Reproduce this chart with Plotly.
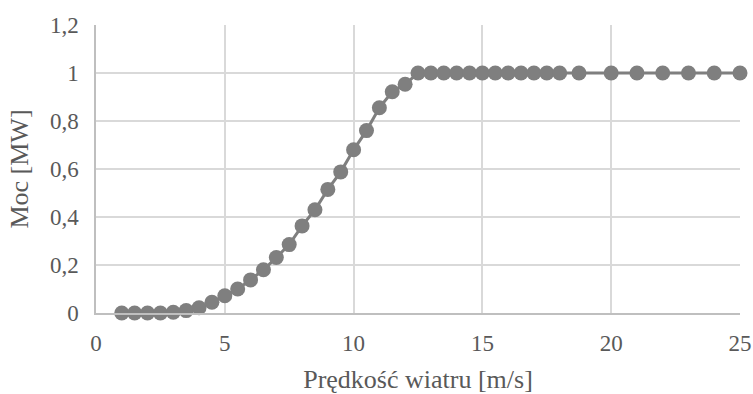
import plotly.graph_objects as go

wind_speed = [1, 1.5, 2, 2.5, 3, 3.5, 4, 4.5, 5, 5.5, 6, 6.5, 7, 7.5, 8, 8.5, 9, 9.5,
              10, 10.5, 11, 11.5, 12, 12.5, 13, 13.5, 14, 14.5, 15, 15.5, 16, 16.5,
              17, 17.5, 18, 18.75, 20, 21, 22, 23, 24, 25]
power_mw = [0, 0, 0, 0, 0.003, 0.01, 0.022, 0.045, 0.072, 0.1, 0.138, 0.18, 0.231,
            0.285, 0.363, 0.43, 0.515, 0.588, 0.68, 0.76, 0.855, 0.922, 0.953, 1,
            1, 1, 1, 1, 1, 1, 1, 1, 1, 1, 1, 1, 1, 1, 1, 1, 1, 1]
x_ticks = [0, 5, 10, 15, 20, 25]
y_ticks = [0, 0.2, 0.4, 0.6, 0.8, 1, 1.2]
y_labels = ["0", "0,2", "0,4", "0,6", "0,8", "1", "1,2"]

gray = "#7f7f7f"
font_family = "Liberation Serif"

fig = go.Figure(go.Scatter(
    x=wind_speed, y=power_mw, mode="lines+markers",
    line=dict(color=gray, width=3),
    marker=dict(color=gray, size=15),
    cliponaxis=False,
))

fig.update_layout(
    width=753, height=394,
    margin=dict(l=96, r=13, t=25, b=81, autoexpand=False),
    paper_bgcolor="white", plot_bgcolor="white",
    showlegend=False,
    font=dict(family=font_family, color="#595959", size=22),
)
fig.update_xaxes(
    range=[0, 25], tickvals=x_ticks, ticktext=[str(v) for v in x_ticks],
    showgrid=True, gridcolor="#d9d9d9", gridwidth=1.5,
    showline=True, linecolor="#bfbfbf", linewidth=1.5,
    zeroline=False, ticks="outside", ticklen=9, tickcolor="rgba(0,0,0,0)",
    automargin=False,
    title=dict(text="Prędkość wiatru [m/s]", font=dict(family=font_family, size=26), standoff=14),
    tickfont=dict(family=font_family, size=23),
)
fig.update_yaxes(
    range=[0, 1.2], tickvals=y_ticks, ticktext=y_labels,
    showgrid=True, gridcolor="#d9d9d9", gridwidth=1.5,
    showline=True, linecolor="#bfbfbf", linewidth=1.5,
    zeroline=False, ticks="outside", ticklen=11, tickcolor="rgba(0,0,0,0)",
    automargin=False,
    title=dict(text="Moc [MW]", font=dict(family=font_family, size=26), standoff=14),
    tickfont=dict(family=font_family, size=23),
)

fig.write_html("out.html")
